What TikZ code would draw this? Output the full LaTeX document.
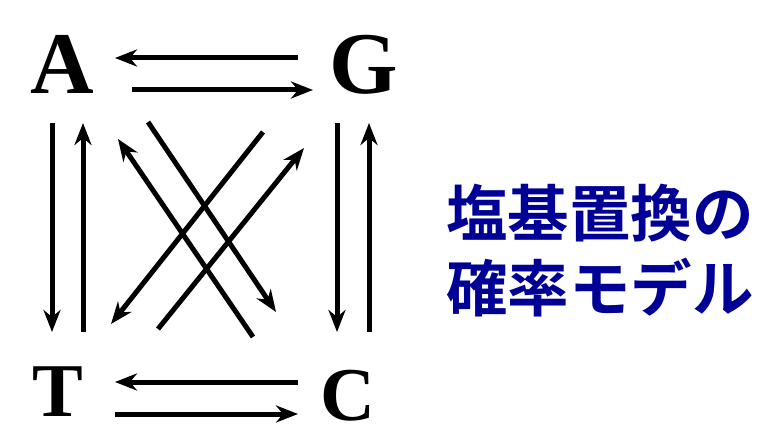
\documentclass[tikz,border=0pt]{standalone}
\usepackage{fontspec}
\setmainfont{Liberation Serif}
\newfontfamily\cjk{Noto Sans CJK JP Bold}
\usetikzlibrary{arrows.meta}
\definecolor{navyjp}{RGB}{0,0,150}
\begin{document}
\begin{tikzpicture}[x=1pt,y=-1pt,
  base/.style={font=\fontsize{88}{88}\selectfont\bfseries, inner sep=0pt},
  basesm/.style={font=\fontsize{76}{76}\selectfont\bfseries, inner sep=0pt},
  arr/.style={line width=5pt, -{Stealth[length=22pt,width=17pt,inset=7pt]}},
  jp/.style={font=\cjk\fontsize{61.5}{61.5}\selectfont, text=navyjp, inner sep=0pt, anchor=west}]
\useasboundingbox (0,0) rectangle (764,425);
\node[base] (A) at (62,64) {A};
\node[base] (G) at (364,65) {G};
\node[basesm] (T) at (58,392) {T};
\node[basesm] (C) at (348,396) {C};
% horizontal arrows
\coordinate (ag1) at (298,58); \coordinate (ag2) at (115,58);
\coordinate (ag3) at (132,90); \coordinate (ag4) at (313,90);
\coordinate (tc1) at (298,382); \coordinate (tc2) at (115,382);
\coordinate (tc3) at (115,414); \coordinate (tc4) at (298,414);
\draw[arr] (ag1) -- (ag2);
\draw[arr] (ag3) -- (ag4);
\draw[arr] (tc1) -- (tc2);
\draw[arr] (tc3) -- (tc4);
% vertical arrows
\coordinate (at1) at (52,123); \coordinate (at2) at (52,332);
\coordinate (at3) at (83,332); \coordinate (at4) at (83,123);
\coordinate (gc1) at (337,123); \coordinate (gc2) at (337,332);
\coordinate (gc3) at (369,332); \coordinate (gc4) at (369,123);
\draw[arr] (at1) -- (at2);
\draw[arr] (at3) -- (at4);
\draw[arr] (gc1) -- (gc2);
\draw[arr] (gc3) -- (gc4);
% diagonals
\coordinate (ac1) at (148,122); \coordinate (ac2) at (276,312);
\coordinate (ca1) at (253,337); \coordinate (ca2) at (118,139);
\coordinate (gt1) at (263,132); \coordinate (gt2) at (111,324);
\coordinate (tg1) at (158,329); \coordinate (tg2) at (304,148);
\draw[arr] (ac1) -- (ac2);
\draw[arr] (ca1) -- (ca2);
\draw[arr] (gt1) -- (gt2);
\draw[arr] (tg1) -- (tg2);
% Japanese text
\node[jp] (l1) at (446,213) {塩基置換の};
\node[jp] (l2) at (446,288) {確率モデル};
\end{tikzpicture}
\end{document}
